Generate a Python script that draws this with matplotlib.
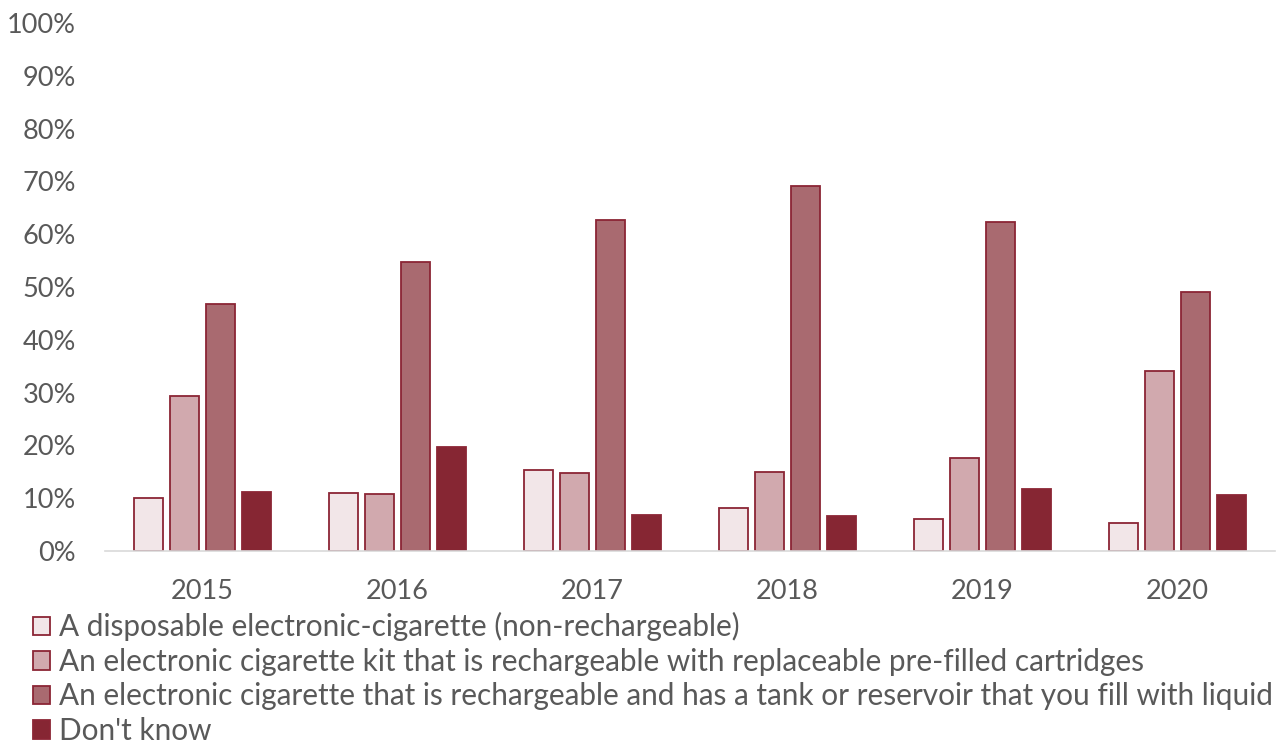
import matplotlib
matplotlib.use("Agg")
import matplotlib.pyplot as plt
import numpy as np
from matplotlib.ticker import FuncFormatter

plt.rcParams['font.family'] = ['Lato', 'DejaVu Sans']

years = ["2015", "2016", "2017", "2018", "2019", "2020"]
disposable = [10.0, 11.0, 15.3, 8.1, 6.1, 5.3]
kit_cartridge = [29.4, 10.8, 14.8, 15.0, 17.6, 34.1]
tank = [46.8, 54.7, 62.7, 69.1, 62.3, 49.1]
dont_know = [11.2, 19.7, 6.8, 6.6, 11.7, 10.6]

labels = [
    "A disposable electronic-cigarette (non-rechargeable)",
    "An electronic cigarette kit that is rechargeable with replaceable pre-filled cartridges",
    "An electronic cigarette that is rechargeable and has a tank or reservoir that you fill with liquid",
    "Don't know",
]
series = [disposable, kit_cartridge, tank, dont_know]
fills = ["#F2E6E8", "#D1A9AE", "#A96A70", "#862633"]
edge = "#8B2535"
grey = "#595959"

fig = plt.figure(figsize=(12.85, 7.43), dpi=100)
ax = fig.add_axes([0.0817, 0.2584, 0.9103, 0.7106])

x = np.arange(len(years))
step = 0.185
width = 0.15
for i, (vals, fc) in enumerate(zip(series, fills)):
    off = (i - 1.5) * step
    ax.bar(x + off, vals, width=width, color=fc, edgecolor=edge,
           linewidth=1.3, label=labels[i], zorder=2)

ax.set_xlim(-0.5, len(years) - 0.5)
ax.set_ylim(0, 100)
ax.set_yticks(np.arange(0, 101, 10))
ax.yaxis.set_major_formatter(FuncFormatter(lambda v, p: f"{int(v)}%"))
ax.set_xticks(x)
ax.set_xticklabels(years)

for s in ["top", "right", "left"]:
    ax.spines[s].set_visible(False)
ax.spines["bottom"].set_color("#D9D9D9")
ax.spines["bottom"].set_linewidth(1.2)
ax.tick_params(axis="both", length=0, labelsize=19.5, colors=grey)
ax.tick_params(axis="x", pad=20)
ax.tick_params(axis="y", pad=21)

leg = fig.legend(loc="upper left", bbox_to_anchor=(0.026, 0.176), frameon=False,
                 fontsize=21.4, handlelength=0.57, handleheight=0.57,
                 handletextpad=0.3, labelspacing=0.22, borderpad=0, borderaxespad=0)
for t in leg.get_texts():
    t.set_color(grey)

fig.savefig("out.png", dpi=100)
